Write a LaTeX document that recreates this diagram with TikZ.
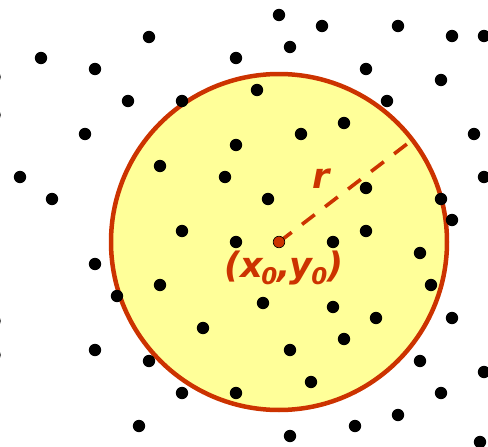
\documentclass[tikz,border=0pt]{standalone}
\usepackage{fontspec}
\newfontfamily\labfont{DejaVu Sans}
\definecolor{rim}{HTML}{CC3300}
\definecolor{disc}{HTML}{FFFF99}
\newcommand{\subz}{\raisebox{-0.2em}{\fontsize{23}{23}\selectfont 0}}
\begin{document}
\begin{tikzpicture}[x=1pt,y=-1pt,
  lbl/.style={text=rim,font=\labfont\bfseries\itshape\fontsize{35}{35}\selectfont,inner sep=0pt}]
\useasboundingbox (0,0) rectangle (488,447);
\clip (0,0) rectangle (488,447);
\coordinate (c) at (279,242);
\coordinate (rend) at (407,144);
\draw[rim,line width=4.5pt,fill=disc] (c) circle[radius=168];
\foreach \x/\y in {279/15, 322/26, 398/26, 452/36, 484/36, 149/37, 290/47, 41/58, 236/58, 95/69, 366/69, 441/80, 257/90, 128/101, 182/101, 387/101, 344/123, 85/134, 301/134, 474/134, 236/145, 160/166, 20/177, 225/177, 484/177, 366/188, 52/199, 268/199, 441/199, 452/220, 182/231, 366/231, 236/242, 333/242, 420/253, 95/264, 160/285, 431/285, 117/296, 263/303, 333/307, 376/318, 452/318, 203/328, 344/339, 95/350, 290/350, 149/361, 420/361, 484/372, 311/382, 182/393, 236/393, 441/393, 398/415, 139/426, 355/426, 290/436, 480/442, -5.5/77, -5.5/115, -5.5/321, -5.5/355}
  \fill (\x,\y) circle[radius=6.2];
\draw[rim,line width=3.6pt,dash pattern=on 16pt off 13pt] (c) -- (rend);
\filldraw[fill=rim,draw=black,line width=0.6pt] (c) circle[radius=5.8];
\node[lbl,anchor=base west] (rlab) at (312,188) {r};
\node[lbl,anchor=base west] (xy) at (224,277) {(x\kern-0.04em\subz,\kern-0.02em y\kern-0.04em\subz)};
\end{tikzpicture}
\end{document}
